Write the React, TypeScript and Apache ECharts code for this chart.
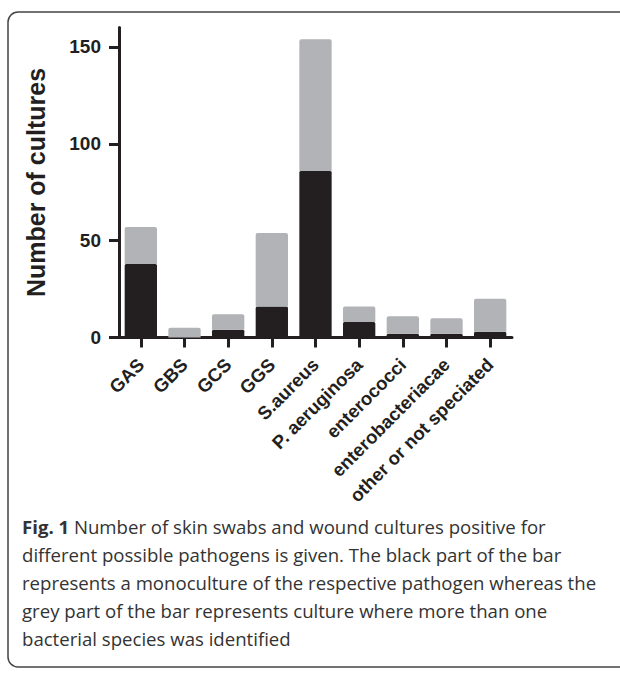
import React, { useEffect, useRef } from "react";
import * as echarts from "echarts";

const categories = [
  "GAS",
  "GBS",
  "GCS",
  "GGS",
  "S.aureus",
  "P. aeruginosa",
  "enterococci",
  "enterobacteriacae",
  "other or not speciated",
];
// black part: monoculture
const monoculture = [38, 0, 4, 16, 86, 8, 2, 2, 3];
// grey part: more than one species
const mixedCulture = [19, 5, 8, 38, 68, 8, 9, 8, 17];
const yTicks = [0, 50, 100, 150];
const yMax = 160;
const yAxisName = "Number of cultures";
const captionLines = [
  "{b|Fig. 1} Number of skin swabs and wound cultures positive for",
  "different possible pathogens is given. The black part of the bar",
  "represents a monoculture of the respective pathogen whereas the",
  "grey part of the bar represents culture where more than one",
  "bacterial species was identified",
];

const INK = "#231f20";
const GREY = "#b1b3b6";
const AXIS_FONT = '"Liberation Sans", Arial, Helvetica, sans-serif';
const CAPTION_FONT = '"Open Sans", "Noto Sans", sans-serif';
const CAPTION_SIZE = 18.6;

export default function App() {
  const ref = useRef<HTMLDivElement>(null);
  useEffect(() => {
    document.body.style.margin = "0";
    document.body.style.overflow = "hidden";
    const chart = echarts.init(ref.current!, null, { renderer: "svg" });
    const captionTop = 526;
    const captionStep = 28;
    chart.setOption({
      animation: false,
      backgroundColor: "#ffffff",
      grid: { left: 119, top: 27.5, width: 393, height: 310 },
      xAxis: {
        type: "category",
        data: categories,
        axisLine: { show: true, lineStyle: { color: INK, width: 3 } },
        axisTick: {
          show: true,
          alignWithLabel: true,
          length: 10,
          lineStyle: { color: INK, width: 3 },
        },
        axisLabel: {
          rotate: 45,
          interval: 0,
          margin: 24,
          color: INK,
          fontFamily: AXIS_FONT,
          fontWeight: "bold",
          fontSize: 18.5,
        },
      },
      yAxis: {
        type: "value",
        min: 0,
        max: yMax,
        interval: 50,
        name: yAxisName,
        nameLocation: "middle",
        nameGap: 71,
        nameRotate: 90,
        nameTextStyle: {
          color: INK,
          fontFamily: AXIS_FONT,
          fontWeight: "bold",
          fontSize: 25,
        },
        splitLine: { show: false },
        axisLine: { show: true, lineStyle: { color: INK, width: 3 } },
        axisTick: {
          show: true,
          length: 10,
          customValues: yTicks,
          lineStyle: { color: INK, width: 3 },
        },
        axisLabel: {
          margin: 18,
          customValues: yTicks,
          color: INK,
          fontFamily: AXIS_FONT,
          fontWeight: "bold",
          fontSize: 19,
        },
      },
      series: [
        {
          name: "monoculture",
          type: "bar",
          stack: "total",
          barWidth: "74%",
          data: monoculture,
          itemStyle: { color: INK, borderRadius: [1.5, 1.5, 0, 0] },
        },
        {
          name: "mixed",
          type: "bar",
          stack: "total",
          barWidth: "74%",
          data: mixedCulture,
          itemStyle: { color: GREY, borderRadius: [2, 2, 0, 0] },
        },
      ],
      graphic: [
        {
          type: "rect",
          silent: true,
          z: -10,
          shape: { x: 8, y: 12, width: 700, height: 655, r: 10 },
          style: { fill: "none", stroke: "#444444", lineWidth: 1.5 },
        },
        ...captionLines.map((line, i) => ({
          type: "text",
          silent: true,
          x: 22,
          y: captionTop + i * captionStep,
          style: {
            text: line,
            fill: "#333333",
            font: `${CAPTION_SIZE}px ${CAPTION_FONT}`,
            verticalAlign: "middle",
            rich: {
              b: {
                fontFamily: CAPTION_FONT,
                fontSize: CAPTION_SIZE,
                fontWeight: "bold",
                fill: "#333333",
              },
            },
          },
        })),
      ],
    });
    return () => chart.dispose();
  }, []);
  return <div ref={ref} style={{ width: 620, height: 692 }} />;
}
